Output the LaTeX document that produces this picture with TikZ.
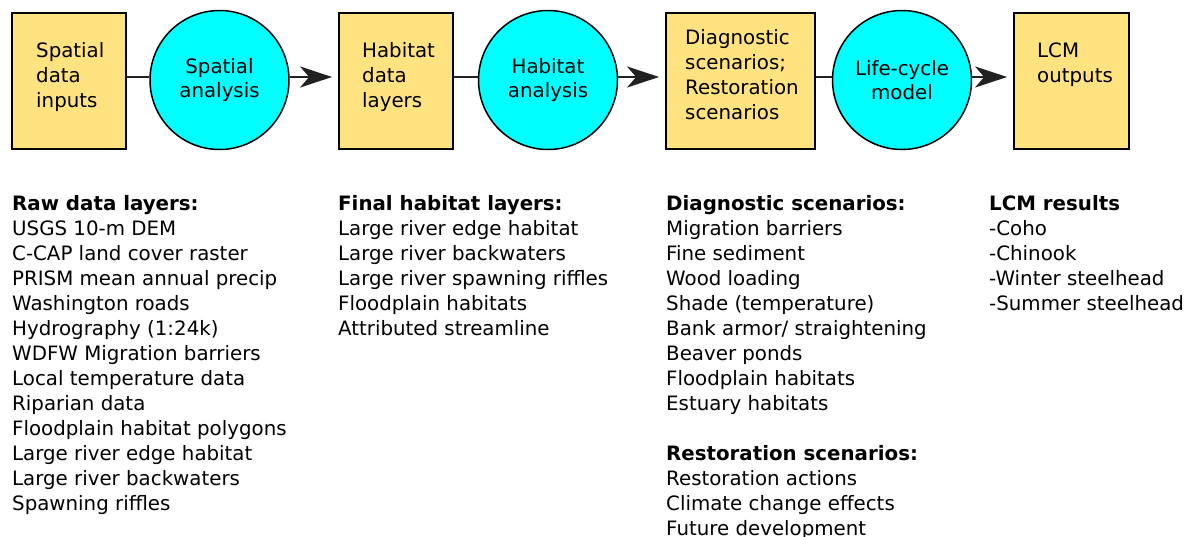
\documentclass[tikz,border=0pt]{standalone}
\usepackage{fontspec}
\setmainfont{DejaVu Sans}
\usetikzlibrary{arrows.meta}

\definecolor{boxyellow}{HTML}{FFE380}
\definecolor{proccyan}{HTML}{00FFFF}
\definecolor{linegray}{HTML}{222222}

\tikzset{
    stage/.style={draw=black, line width=1.8pt, fill=boxyellow,
        minimum height=136pt, inner sep=0pt},
    process/.style={circle, draw=black, line width=1.5pt, fill=proccyan,
        minimum size=139pt, inner sep=0pt, align=center,
        font=\fontsize{19.8}{24}\selectfont},
    stagetext/.style={anchor=north west, align=left, inner sep=0pt,
        font=\fontsize{19.8}{25}\selectfont},
    listtext/.style={anchor=north west, align=left, inner sep=0pt,
        font=\fontsize{19.8}{25}\selectfont},
    link/.style={draw=linegray, line width=2.2pt},
    flow/.style={link, -{Stealth[length=32pt, width=21pt, inset=9pt]}, shorten >=6pt}
}

\begin{document}
\begin{tikzpicture}[x=1pt, y=-1pt]
    \useasboundingbox (0,0) rectangle (1190,536);

    % top row: boxes and circles
    \node[stage, minimum width=114pt] (inputs) at (69,81) {};
    \node[process] (spatial) at (219.5,80) {Spatial\\analysis};
    \node[stage, minimum width=114pt] (layers) at (396,81) {};
    \node[process] (habitat) at (548,80) {Habitat\\analysis};
    \node[stage, minimum width=149pt] (scen) at (740.5,81) {};
    \node[process] (lcm) at (902,80) {Life-cycle\\model};
    \node[stage, minimum width=115pt] (outputs) at (1071.5,81) {};

    \node[stagetext] (inputs-t) at (36,42) {Spatial\\data\\inputs};
    \node[stagetext] (layers-t) at (362,42) {Habitat\\data\\layers};
    \node[stagetext] (scen-t) at (685,29) {Diagnostic\\scenarios;\\Restoration\\scenarios};
    \node[stagetext] (outputs-t) at (1037,43) {LCM\\outputs};

    % connectors (a little above the box centres)
    \draw[link] ([yshift=4pt]inputs.east) -- ([yshift=3pt]spatial.west);
    \draw[flow] ([yshift=3pt]spatial.east) -- ([yshift=4pt]layers.west);
    \draw[link] ([yshift=4pt]layers.east) -- ([yshift=3pt]habitat.west);
    \draw[flow] ([yshift=3pt]habitat.east) -- ([yshift=4pt]scen.west);
    \draw[link] ([yshift=4pt]scen.east) -- ([yshift=3pt]lcm.west);
    \draw[flow] ([yshift=3pt]lcm.east) -- ([yshift=4pt]outputs.west);

    % lists under the row
    \node[listtext] (raw) at (12,195) {\textbf{Raw data layers:}\\
        USGS 10-m DEM\\
        C-CAP land cover raster\\
        PRISM mean annual precip\\
        Washington roads\\
        Hydrography (1:24k)\\
        WDFW Migration barriers\\
        Local temperature data\\
        Riparian data\\
        Floodplain habitat polygons\\
        Large river edge habitat\\
        Large river backwaters\\
        Spawning riffles};
    \node[listtext] (final) at (338,195) {\textbf{Final habitat layers:}\\
        Large river edge habitat\\
        Large river backwaters\\
        Large river spawning riffles\\
        Floodplain habitats\\
        Attributed streamline};
    \node[listtext] (diag) at (666,195) {\textbf{Diagnostic scenarios:}\\
        Migration barriers\\
        Fine sediment\\
        Wood loading\\
        Shade (temperature)\\
        Bank armor/ straightening\\
        Beaver ponds\\
        Floodplain habitats\\
        Estuary habitats\\[25pt]
        \textbf{Restoration scenarios:}\\
        Restoration actions\\
        Climate change effects\\
        Future development};
    \node[listtext] (results) at (989,195) {\textbf{LCM results}\\
        -Coho\\
        -Chinook\\
        -Winter steelhead\\
        -Summer steelhead};
\end{tikzpicture}
\end{document}
